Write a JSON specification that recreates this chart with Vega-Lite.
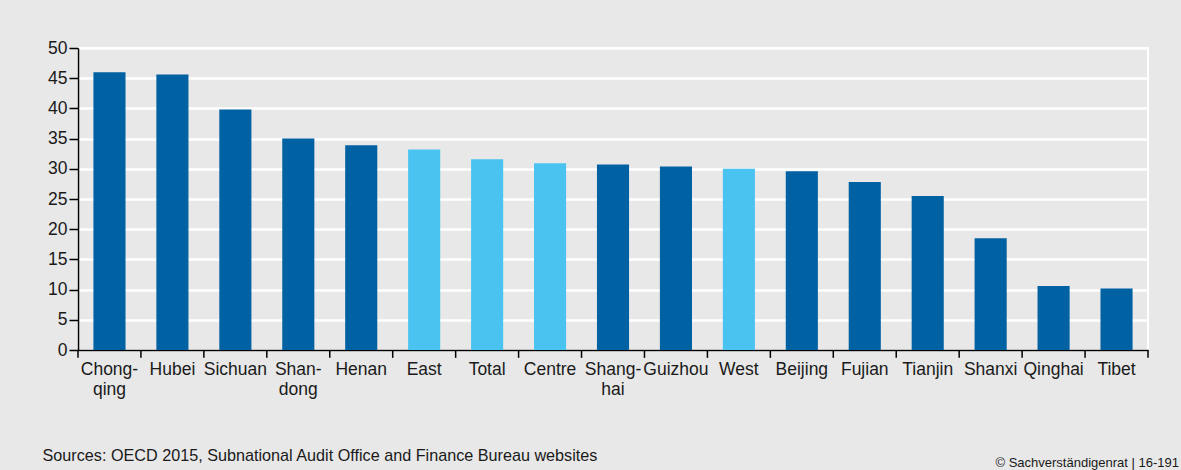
{
  "$schema": "https://vega.github.io/schema/vega-lite/v6.json",
  "width": 1070,
  "height": 302,
  "autosize": {"type": "none"},
  "padding": {"left": 78, "top": 48, "right": 33, "bottom": 120},
  "background": "#e8e8e8",
  "view": {"fill": "#e8e8e8", "stroke": "white", "strokeWidth": 2},
  "title": {
    "text": "© Sachverständigenrat | 16-191",
    "orient": "bottom",
    "anchor": "end",
    "frame": "group",
    "fontSize": 13,
    "font": "Liberation Sans",
    "fontWeight": "normal",
    "color": "#1a1a1a",
    "dx": 31,
    "dy": -10,
    "offset": 4
  },
  "data": {
    "values": [
      {"name": "Chongqing", "value": 46.0, "group": "Province"},
      {"name": "Hubei", "value": 45.6, "group": "Province"},
      {"name": "Sichuan", "value": 39.8, "group": "Province"},
      {"name": "Shandong", "value": 35.0, "group": "Province"},
      {"name": "Henan", "value": 33.9, "group": "Province"},
      {"name": "East", "value": 33.2, "group": "Region"},
      {"name": "Total", "value": 31.6, "group": "Region"},
      {"name": "Centre", "value": 30.9, "group": "Region"},
      {"name": "Shanghai", "value": 30.7, "group": "Province"},
      {"name": "Guizhou", "value": 30.4, "group": "Province"},
      {"name": "West", "value": 30.0, "group": "Region"},
      {"name": "Beijing", "value": 29.6, "group": "Province"},
      {"name": "Fujian", "value": 27.8, "group": "Province"},
      {"name": "Tianjin", "value": 25.5, "group": "Province"},
      {"name": "Shanxi", "value": 18.5, "group": "Province"},
      {"name": "Qinghai", "value": 10.6, "group": "Province"},
      {"name": "Tibet", "value": 10.2, "group": "Province"}
    ]
  },
  "layer": [
    {
      "mark": {"type": "bar"},
      "encoding": {
        "x": {
          "field": "name",
          "type": "nominal",
          "sort": null,
          "scale": {"paddingInner": 0.49, "paddingOuter": 0.245},
          "axis": {
            "title": "Sources: OECD 2015, Subnational Audit Office and Finance Bureau websites",
            "titleX": -36,
            "titleY": 110,
            "titleAlign": "left",
            "titleAnchor": "start",
            "titleBaseline": "alphabetic",
            "titleFont": "Liberation Sans",
            "titleFontSize": 16.2,
            "titleFontWeight": "normal",
            "titleColor": "#1a1a1a",
            "labelAngle": 0,
            "labelFont": "Liberation Sans",
            "labelFontSize": 17.5,
            "labelColor": "#1a1a1a",
            "labelLineHeight": 20,
            "labelPadding": 10,
            "labelBaseline": "top",
            "labelExpr": "datum.label == 'Chongqing' ? ['Chong-','qing'] : datum.label == 'Shandong' ? ['Shan-','dong'] : datum.label == 'Shanghai' ? ['Shang-','hai'] : datum.label",
            "ticks": false,
            "domainColor": "black",
            "domainWidth": 1.5,
            "grid": false
          }
        },
        "y": {
          "field": "value",
          "type": "quantitative",
          "scale": {"domain": [0, 50], "nice": false},
          "axis": {
            "title": null,
            "values": [0, 5, 10, 15, 20, 25, 30, 35, 40, 45, 50],
            "labelFont": "Liberation Sans",
            "labelFontSize": 17.5,
            "labelColor": "#1a1a1a",
            "labelPadding": 2,
            "tickSize": 9,
            "tickColor": "black",
            "tickWidth": 1.5,
            "domainColor": "black",
            "domainWidth": 1.5,
            "grid": true,
            "gridColor": "white",
            "gridWidth": 2.5
          }
        },
        "color": {
          "field": "group",
          "type": "nominal",
          "scale": {"domain": ["Province", "Region"], "range": ["#0061a3", "#4bc3f1"]},
          "legend": null
        }
      }
    },
    {
      "mark": {"type": "rule", "color": "black", "strokeWidth": 1.5},
      "encoding": {
        "x": {
          "field": "name",
          "type": "nominal",
          "sort": null,
          "bandPosition": -0.4804,
          "scale": {"paddingInner": 0.49, "paddingOuter": 0.245},
          "axis": {
            "title": "Sources: OECD 2015, Subnational Audit Office and Finance Bureau websites",
            "titleX": -36,
            "titleY": 110,
            "titleAlign": "left",
            "titleAnchor": "start",
            "titleBaseline": "alphabetic",
            "titleFont": "Liberation Sans",
            "titleFontSize": 16.2,
            "titleFontWeight": "normal",
            "titleColor": "#1a1a1a",
            "labelAngle": 0,
            "labelFont": "Liberation Sans",
            "labelFontSize": 17.5,
            "labelColor": "#1a1a1a",
            "labelLineHeight": 20,
            "labelPadding": 10,
            "labelBaseline": "top",
            "labelExpr": "datum.label == 'Chongqing' ? ['Chong-','qing'] : datum.label == 'Shandong' ? ['Shan-','dong'] : datum.label == 'Shanghai' ? ['Shang-','hai'] : datum.label",
            "ticks": false,
            "domainColor": "black",
            "domainWidth": 1.5,
            "grid": false
          }
        },
        "y": {
          "datum": 0,
          "type": "quantitative",
          "scale": {"domain": [0, 50], "nice": false},
          "axis": {
            "title": null,
            "values": [0, 5, 10, 15, 20, 25, 30, 35, 40, 45, 50],
            "labelFont": "Liberation Sans",
            "labelFontSize": 17.5,
            "labelColor": "#1a1a1a",
            "labelPadding": 2,
            "tickSize": 9,
            "tickColor": "black",
            "tickWidth": 1.5,
            "domainColor": "black",
            "domainWidth": 1.5,
            "grid": true,
            "gridColor": "white",
            "gridWidth": 2.5
          }
        },
        "y2": {"datum": -1.3}
      }
    },
    {
      "transform": [{"filter": "datum.name == 'Tibet'"}],
      "mark": {"type": "rule", "color": "black", "strokeWidth": 1.5},
      "encoding": {
        "x": {
          "field": "name",
          "type": "nominal",
          "sort": null,
          "bandPosition": 1.4804,
          "scale": {"paddingInner": 0.49, "paddingOuter": 0.245},
          "axis": {
            "title": "Sources: OECD 2015, Subnational Audit Office and Finance Bureau websites",
            "titleX": -36,
            "titleY": 110,
            "titleAlign": "left",
            "titleAnchor": "start",
            "titleBaseline": "alphabetic",
            "titleFont": "Liberation Sans",
            "titleFontSize": 16.2,
            "titleFontWeight": "normal",
            "titleColor": "#1a1a1a",
            "labelAngle": 0,
            "labelFont": "Liberation Sans",
            "labelFontSize": 17.5,
            "labelColor": "#1a1a1a",
            "labelLineHeight": 20,
            "labelPadding": 10,
            "labelBaseline": "top",
            "labelExpr": "datum.label == 'Chongqing' ? ['Chong-','qing'] : datum.label == 'Shandong' ? ['Shan-','dong'] : datum.label == 'Shanghai' ? ['Shang-','hai'] : datum.label",
            "ticks": false,
            "domainColor": "black",
            "domainWidth": 1.5,
            "grid": false
          }
        },
        "y": {
          "datum": 0,
          "type": "quantitative",
          "scale": {"domain": [0, 50], "nice": false},
          "axis": {
            "title": null,
            "values": [0, 5, 10, 15, 20, 25, 30, 35, 40, 45, 50],
            "labelFont": "Liberation Sans",
            "labelFontSize": 17.5,
            "labelColor": "#1a1a1a",
            "labelPadding": 2,
            "tickSize": 9,
            "tickColor": "black",
            "tickWidth": 1.5,
            "domainColor": "black",
            "domainWidth": 1.5,
            "grid": true,
            "gridColor": "white",
            "gridWidth": 2.5
          }
        },
        "y2": {"datum": -1.3}
      }
    }
  ]
}
